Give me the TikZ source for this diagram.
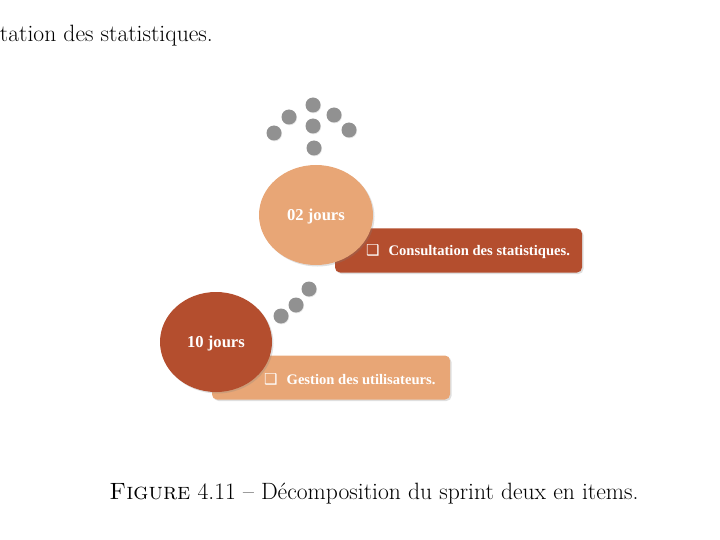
\documentclass[tikz,border=0pt]{standalone}
\usepackage{fontspec}
\newfontfamily\lblfont{Liberation Serif}
\newfontfamily\symfont{DejaVu Sans}
\usetikzlibrary{shadows,shapes.geometric}
\definecolor{lightor}{RGB}{232,166,118}
\definecolor{darkor}{RGB}{180,78,46}
\definecolor{dotgray}{RGB}{145,145,145}
\tikzset{
  dotc/.style={circle,fill=dotgray,minimum size=15pt,inner sep=0pt,draw=none,
    drop shadow={shadow xshift=0.6pt,shadow yshift=-0.8pt,opacity=0.2}},
  bubble/.style={ellipse,draw=none,inner sep=0pt,font=\lblfont\bfseries\fontsize{16.6}{18}\selectfont,text=white,
    drop shadow={shadow xshift=1.5pt,shadow yshift=-1.5pt,opacity=0.25}},
  bubtext/.style={inner sep=0pt,text=white,font=\lblfont\bfseries\fontsize{16.6}{18}\selectfont},
  bar/.style={rectangle,rounded corners=5pt,draw=none,
    drop shadow={shadow xshift=1.5pt,shadow yshift=-1.5pt,opacity=0.25}},
  bartext/.style={anchor=west,inner sep=0pt,text=white,font=\lblfont\bfseries\fontsize{14.6}{16}\selectfont},
  pagetext/.style={inner sep=0pt,font=\fontsize{23.6}{28}\selectfont}
}
\newcommand{\chk}{{\symfont\fontsize{15}{16}\selectfont ❑}}
\begin{document}
\begin{tikzpicture}[x=1pt,y=-1pt]
\useasboundingbox (0,0) rectangle (720,540);
% top cut-off text
\node[pagetext,anchor=base east] (toptext) at (213,42) {tation des statistiques.};
% dots
\foreach \n/\px/\py in {d1/274/133,d2/289/117,d3/313/105,d4/334/115,d5/349/130,d6/313/126,d7/314/148,
  e1/309/289,e2/296/305,e3/281/316}{
  \node[dotc] (\n) at (\px,\py) {};
}
% bars
\node[bar,fill=darkor,minimum width=247pt,minimum height=44pt] (bar1) at (458.5,250.5) {};
\node[bar,fill=lightor,minimum width=238pt,minimum height=44pt] (bar2) at (331,377.5) {};
% bubbles
\node[bubble,fill=lightor,minimum width=114pt,minimum height=100pt] (b1) at (316,215) {};
\node[bubble,fill=darkor,minimum width=112pt,minimum height=100pt] (b2) at (216,342) {};
\node[bubtext] (l1) at ([yshift=-2pt]b1.center) {02 jours};
\node[bubtext] (l2) at ([yshift=-2pt]b2.center) {10 jours};
% bar texts
\node[bartext] (t1) at (366,252) {\chk\hspace{9pt}Consultation des statistiques.};
\node[bartext] (t2) at (264,379.5) {\chk\hspace{9pt}Gestion des utilisateurs.};
% caption
\node[pagetext,anchor=base] (cap) at (374,499) {\textsc{Figure} 4.11 -- Décomposition du sprint deux en items.};
\end{tikzpicture}
\end{document}
